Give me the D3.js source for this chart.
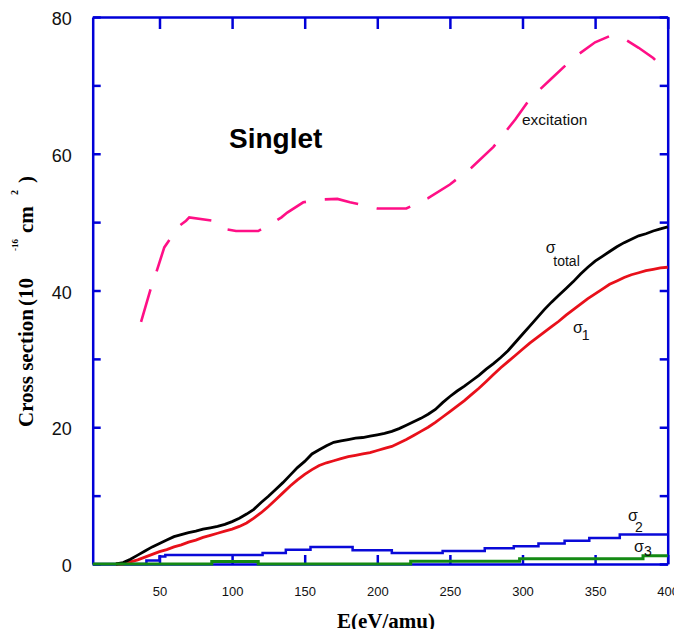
<!DOCTYPE html>
<meta charset="utf-8">
<script src="https://d3js.org/d3.v7.min.js"></script>
<style>
  body { margin: 0; background: #fff; }
</style>
<div id="chart"></div>
<script>
// energies (eV/amu) for the fine curves
const energy = d3.range(20, 401, 5);
// sigma total (black)
const sigmaTotal = [0, 0.2, 0.7, 1.3, 1.9, 2.5, 3.0, 3.5, 4.0, 4.3, 4.6, 4.8, 5.1, 5.3, 5.5, 5.8,
  6.2, 6.7, 7.3, 8.0, 9.0, 9.9, 10.9, 11.9, 13.0, 14.1, 15.0, 16.1, 16.7, 17.3, 17.8, 18.0,
  18.2, 18.4, 18.5, 18.7, 18.9, 19.1, 19.4, 19.8, 20.3, 20.8, 21.3, 21.9, 22.6, 23.6, 24.5,
  25.3, 26.0, 26.8, 27.6, 28.5, 29.3, 30.2, 31.2, 32.4, 33.6, 34.8, 36.0, 37.2, 38.3, 39.3,
  40.3, 41.3, 42.4, 43.4, 44.3, 45.0, 45.7, 46.4, 47.0, 47.5, 48.0, 48.3, 48.7, 49.0, 49.3];
// sigma 1 (red)
const sigma1 = [0, 0, 0.3, 0.6, 1.0, 1.4, 1.8, 2.1, 2.5, 2.8, 3.2, 3.5, 3.9, 4.2, 4.5, 4.8,
  5.1, 5.5, 6.0, 6.7, 7.5, 8.4, 9.4, 10.4, 11.4, 12.3, 13.1, 13.8, 14.4, 14.8, 15.1, 15.4,
  15.7, 15.9, 16.1, 16.3, 16.6, 16.9, 17.2, 17.7, 18.2, 18.8, 19.4, 20.0, 20.7, 21.5, 22.3,
  23.1, 23.9, 24.8, 25.7, 26.7, 27.7, 28.7, 29.6, 30.5, 31.4, 32.3, 33.1, 33.9, 34.7, 35.5,
  36.4, 37.2, 38.0, 38.8, 39.5, 40.2, 40.9, 41.4, 41.9, 42.3, 42.6, 42.9, 43.1, 43.3, 43.4];

// sigma 2 (blue) coarse steps: start energy, value
const sigma2E = [4, 41, 50, 54, 121, 137, 154, 183, 210, 245, 274, 294, 311, 329, 346, 367, 400];
const sigma2V = [0, 0.5, 1.1, 1.3, 1.6, 2.1, 2.5, 2.0, 1.6, 1.9, 2.3, 2.6, 3.0, 3.4, 3.8, 4.3, 4.3];
// sigma 3 (green) coarse steps
const sigma3E = [4, 86, 118, 223, 298, 383, 400];
const sigma3V = [0, 0.35, 0, 0.4, 0.75, 1.2, 1.2];

// excitation (pink dashed)
const excE = [37.3, 44, 48, 53.3, 57.2, 62, 68.3, 70.5, 87, 90.5, 95, 102.7, 118, 125.6, 134, 138,
  149, 160.5, 172.5, 181.2, 190, 200, 220, 235, 250, 265, 280, 295, 305, 320, 335, 350, 360,
  370, 380, 390, 400];
const excV = [35.4, 40.3, 42.8, 46.3, 47.5, 49.2, 50.2, 50.7, 50.2, 49.8, 49.0, 48.7, 48.7, 49.6,
  50.7, 51.4, 52.9, 53.3, 53.4, 52.9, 52.5, 52.0, 52.0, 53.5, 55.5, 58.0, 61.0, 65.0, 68.0,
  71.0, 74.0, 76.3, 77.2, 76.8, 75.5, 74.0, 71.9];

const xTicks = [50, 100, 150, 200, 250, 300, 350, 400];
const yTicks = [0, 10, 20, 30, 40, 50, 60, 70, 80];

const W = 674, H = 629;
const frameColor = "#0000d8";
const sans = "Arial, 'Liberation Sans', sans-serif";
const serif = "'Liberation Serif', 'Times New Roman', serif";

const svg = d3.select("#chart").append("svg")
  .attr("width", W).attr("height", H)
  .style("font-family", sans);

const x = d3.scaleLinear().domain([4, 400]).range([92.7, 667.7]);
const y = d3.scaleLinear().domain([0, 80]).range([564, 17]);

// axes on all four sides, ticks pointing in
const axLeft = svg.append("g").attr("transform", "translate(" + x.range()[0] + ",0)")
  .call(d3.axisLeft(y).tickValues(yTicks).tickSizeInner(-8).tickSizeOuter(0).tickPadding(21)
    .tickFormat(d => d % 20 === 0 ? d : ""));
axLeft.selectAll("text").style("font-size", "18px").attr("dy", "0.42em");

const axRight = svg.append("g").attr("transform", "translate(" + x.range()[1] + ",0)")
  .call(d3.axisRight(y).tickValues(yTicks).tickSizeInner(-8).tickSizeOuter(0).tickFormat(""));

const axTop = svg.append("g").attr("transform", "translate(0," + y.range()[1] + ")")
  .call(d3.axisTop(x).tickValues(xTicks).tickSizeInner(-12).tickSizeOuter(0).tickFormat(""));

const axBottom = svg.append("g").attr("transform", "translate(0," + y.range()[0] + ")")
  .call(d3.axisBottom(x).tickValues(xTicks).tickSizeInner(-9).tickSizeOuter(0).tickPadding(23)
    .tickFormat(d3.format("d")));
axBottom.selectAll("text").style("font-size", "13px");

[axLeft, axRight, axTop, axBottom].forEach(g => {
  g.select(".domain").attr("stroke", frameColor).attr("stroke-width", 2.5);
  g.selectAll(".tick line").attr("stroke", frameColor).attr("stroke-width", 2.5);
  g.selectAll(".tick text").attr("fill", "#111").style("font-family", sans);
});

// curves
const line = d3.line().x(d => x(d[0])).y(d => y(d[1]));
const stepLine = d3.line().x(d => x(d[0])).y(d => y(d[1])).curve(d3.curveStepAfter);

svg.append("path")
  .datum(d3.zip(excE, excV))
  .attr("d", line)
  .attr("fill", "none").attr("stroke", "#ff0f86").attr("stroke-width", 2.6)
  .attr("stroke-dasharray", "34,19");

svg.append("path")
  .datum(d3.zip(sigma2E, sigma2V))
  .attr("d", stepLine)
  .attr("fill", "none").attr("stroke", "#0a0ad8").attr("stroke-width", 2.5);

svg.append("path")
  .datum(d3.zip(energy, sigma1))
  .attr("d", line)
  .attr("fill", "none").attr("stroke", "#e8101a").attr("stroke-width", 2.8);

svg.append("path")
  .datum(d3.zip(energy, sigmaTotal))
  .attr("d", line)
  .attr("fill", "none").attr("stroke", "#000").attr("stroke-width", 2.8);

svg.append("path")
  .datum(d3.zip(sigma3E, sigma3V))
  .attr("d", stepLine)
  .attr("fill", "none").attr("stroke", "#138a13").attr("stroke-width", 3);

// annotations
svg.append("text").attr("x", 229).attr("y", 148)
  .style("font-size", "28px").style("font-weight", "bold").attr("fill", "#000").text("Singlet");

svg.append("text").attr("x", 522).attr("y", 125)
  .style("font-size", "15.5px").attr("fill", "#111").text("excitation");

const sigmaLabels = [
  {sx: 545.7, sy: 253, sub: "total", bx: 553.3, by: 266},
  {sx: 573, sy: 333, sub: "1", bx: 581.7, by: 339.5},
  {sx: 628, sy: 521, sub: "2", bx: 635, by: 532},
  {sx: 634, sy: 552, sub: "3", bx: 644, by: 555.5}
];
sigmaLabels.forEach(l => {
  svg.append("text").attr("x", l.sx).attr("y", l.sy)
    .style("font-size", "16px").attr("fill", "#111").text("σ");
  svg.append("text").attr("x", l.bx).attr("y", l.by)
    .style("font-size", "14px").attr("fill", "#111").text(l.sub);
});

// axis titles
svg.append("text").attr("x", 386).attr("y", 628).attr("text-anchor", "middle")
  .style("font-family", serif)
  .style("font-size", "21px").style("font-weight", "bold").text("E(eV/amu)");

const ytitle = svg.append("g").attr("transform", "translate(33,0) rotate(-90)");
const ytitleParts = [
  {t: "Cross section", at: -427, dy: 0, size: 21},
  {t: "(10", at: -306, dy: 0, size: 21},
  {t: "-16", at: -251, dy: -15, size: 9},
  {t: "cm", at: -233, dy: 0, size: 21},
  {t: "2", at: -195, dy: -15, size: 10},
  {t: ")", at: -183, dy: 0, size: 21}
];
ytitleParts.forEach(p => {
  ytitle.append("text").attr("x", p.at).attr("y", p.dy)
    .style("font-family", serif).style("font-weight", "bold")
    .style("font-size", p.size + "px").attr("fill", "#000").text(p.t);
});
</script>
